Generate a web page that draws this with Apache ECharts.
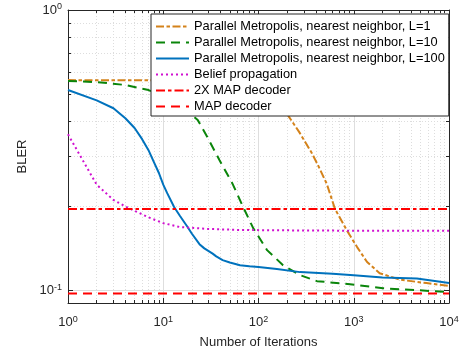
<!DOCTYPE html>
<html><head><meta charset="utf-8">
<script src="https://cdn.jsdelivr.net/npm/echarts@6/dist/echarts.min.js"></script>
<style>html,body{margin:0;padding:0;background:#fff}#c{width:464px;height:356px}</style>
</head><body><div id="c"></div>
<script>
// ---- data ----
const xTickExponents = [0, 1, 2, 3, 4];
const yTickExponents = [-1, 0];
const xRange = [1, 10000];
const yRange = [0.09, 1];

const seriesNames = [
  'Parallel Metropolis, nearest neighbor, L=1',
  'Parallel Metropolis, nearest neighbor, L=10',
  'Parallel Metropolis, nearest neighbor, L=100',
  'Belief propagation',
  '2X MAP decoder',
  'MAP decoder'
];

const L1_iter = [1, 10, 30, 60, 100, 150, 200, 270, 360, 420, 520, 635, 850, 1085, 1380, 1870, 3050, 5800, 10000];
const L1_bler = [0.562, 0.561, 0.56, 0.555, 0.535, 0.48, 0.425, 0.365, 0.31, 0.28, 0.24, 0.195, 0.163, 0.1425, 0.126, 0.115, 0.109, 0.106, 0.1035];

const L10_iter = [1, 2, 4, 7, 10, 16, 23, 29, 39, 53, 69, 88, 123, 181, 273, 411, 914, 2028, 4617, 10000];
const L10_bler = [0.558, 0.553, 0.54, 0.518, 0.49, 0.451, 0.405, 0.352, 0.291, 0.241, 0.198, 0.1665, 0.139, 0.1228, 0.1132, 0.1077, 0.105, 0.1016, 0.1, 0.0984];

const L100_iter = [1, 2, 3, 4, 5, 6, 7, 8, 9, 10, 11, 13, 15, 18, 20, 24, 27, 33, 36, 42, 50, 64, 80, 100, 156, 273, 600, 1000, 2000, 4600, 6800, 10000];
const L100_bler = [0.518, 0.476, 0.446, 0.411, 0.379, 0.346, 0.316, 0.286, 0.262, 0.238, 0.222, 0.198, 0.184, 0.168, 0.159, 0.146, 0.141, 0.135, 0.132, 0.128, 0.1255, 0.1228, 0.1218, 0.121, 0.119, 0.116, 0.1145, 0.113, 0.111, 0.11, 0.108, 0.106];

const BP_iter = [1, 2, 3, 4, 5, 7, 10, 15, 29, 64, 200, 1000, 10000];
const BP_bler = [0.36, 0.238, 0.21, 0.199, 0.192, 0.182, 0.1735, 0.168, 0.1655, 0.164, 0.1635, 0.163, 0.163];

const MAP2X_iter = [1, 10000];
const MAP2X_bler = [0.195, 0.195];

const MAP_iter = [1, 10000];
const MAP_bler = [0.0973, 0.0973];

// ---- build ----
const lg = Math.log10;
function pairs(it, b) { return it.map((n, i) => [lg(n), lg(b[i])]); }
const xMinor = [], yMinor = [];
for (let e = xTickExponents[0]; e < xTickExponents[xTickExponents.length - 1]; e++)
  for (let k = 2; k <= 9; k++) xMinor.push(lg(k * Math.pow(10, e)));
for (let k = 2; k <= 9; k++) yMinor.push(lg(k / 10));

const AX = '#262626';
const FONT = 'Liberation Sans, Arial, Helvetica, sans-serif';
const rich = {
  b: { fontSize: 13, fontFamily: FONT, color: AX, lineHeight: 15 },
  s: { fontSize: 9, fontFamily: FONT, color: AX, lineHeight: 8, verticalAlign: 'top' }
};
const fmt = v => '{b|10}{s|' + Math.round(v) + '}';

function axis(kind, pos, major, main) {
  const isX = kind === 'x';
  const r = isX ? [lg(xRange[0]), lg(xRange[1])] : [lg(yRange[0]), lg(yRange[1])];
  const custom = major ? (isX ? xTickExponents : yTickExponents) : (isX ? xMinor : yMinor);
  return {
    type: 'value', position: pos, min: r[0], max: r[1], gridIndex: 0,
    axisLine: { show: major, onZero: false, lineStyle: { color: AX, width: 1 } },
    axisTick: { show: true, inside: true, length: major ? 5 : 3, customValues: custom, lineStyle: { color: AX, width: 1 } },
    axisLabel: main ? { show: true, customValues: custom, formatter: fmt, rich: rich, margin: isX ? 12 : 6 } : { show: false },
    splitLine: (pos === 'bottom' || pos === 'left') ? {
      show: true,
      lineStyle: major ? { color: '#dedede', width: 1, type: 'solid' } : { color: '#dddddd', width: 1, type: [1, 2] }
    } : { show: false },
    minorTick: { show: false }, minorSplitLine: { show: false }
  };
}

const seriesDefs = [
  { it: L1_iter, b: L1_bler, color: '#D4821A', type: [8, 2.5, 3.5, 2.5] },
  { it: L10_iter, b: L10_bler, color: '#0A850A', type: [9, 6] },
  { it: L100_iter, b: L100_bler, color: '#0072BD', type: 'solid' },
  { it: BP_iter, b: BP_bler, color: '#D010D0', type: [2, 3] },
  { it: MAP2X_iter, b: MAP2X_bler, color: '#FF0000', type: [9, 3, 3.5, 3] },
  { it: MAP_iter, b: MAP_bler, color: '#FF0000', type: [9, 6] }
];

const chart = echarts.init(document.getElementById('c'), null, { renderer: 'canvas' });
chart.setOption({
  animation: false,
  backgroundColor: '#ffffff',
  grid: { left: 68, right: 15, top: 10, bottom: 53, containLabel: false, outerBoundsMode: 'none' },
  xAxis: [axis('x', 'bottom', true, true), axis('x', 'bottom', false, false), axis('x', 'top', true, false), axis('x', 'top', false, false)],
  yAxis: [axis('y', 'left', true, true), axis('y', 'left', false, false), axis('y', 'right', true, false), axis('y', 'right', false, false)],
  legend: {
    orient: 'vertical', left: 151, top: 14,
    itemWidth: 33, itemHeight: 14, itemGap: 3,
    padding: [6, 4, 3, 4],
    backgroundColor: '#ffffff', borderColor: AX, borderWidth: 1,
    itemStyle: { opacity: 0, borderWidth: 0 },
    textStyle: { fontSize: 12.8, fontFamily: FONT, color: '#000' },
    data: seriesNames
  },
  graphic: [
    { type: 'text', x: 258.5, y: 342, style: { text: 'Number of Iterations', fontSize: 13, fontFamily: FONT, fill: AX, align: 'center', verticalAlign: 'middle' } },
    { type: 'text', x: 22.5, y: 156.5, rotation: Math.PI / 2, style: { text: 'BLER', fontSize: 13, fontFamily: FONT, fill: AX, align: 'center', verticalAlign: 'middle' } }
  ],
  series: seriesDefs.map((d, i) => ({
    name: seriesNames[i], type: 'line', xAxisIndex: 0, yAxisIndex: 0,
    data: pairs(d.it, d.b), symbol: 'none', showSymbol: false, smooth: false, clip: true,
    color: d.color,
    lineStyle: { color: d.color, width: 2, type: d.type, cap: 'butt' },
    emphasis: { disabled: true }
  }))
});
</script></body></html>
